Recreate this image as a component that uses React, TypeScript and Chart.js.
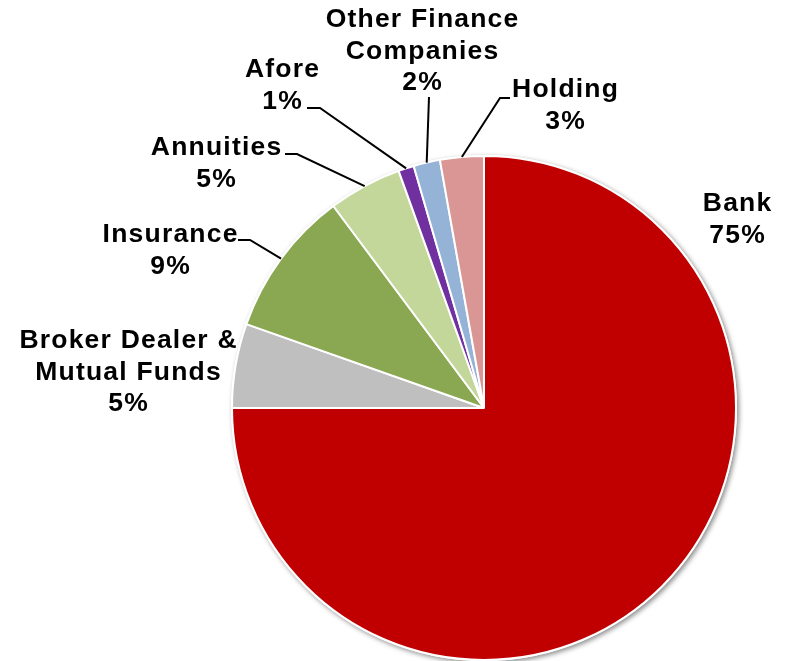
import React, { useEffect, useRef } from 'react';
import { Chart, registerables } from 'chart.js';

Chart.register(...registerables);

// ---- data ----
const categories = [
  'Bank',
  'Broker Dealer & Mutual Funds',
  'Insurance',
  'Annuities',
  'Afore',
  'Other Finance Companies',
  'Holding',
];
const labelLines = [
  ['Bank'],
  ['Broker Dealer &', 'Mutual Funds'],
  ['Insurance'],
  ['Annuities'],
  ['Afore'],
  ['Other Finance', 'Companies'],
  ['Holding'],
];
const shares = [75.0, 5.4, 9.4, 4.7, 1.0, 1.7, 2.8];
const sliceColors = ['#C00000', '#BFBFBF', '#8AA752', '#C4D79B', '#7030A0', '#95B3D7', '#D99694'];

// ---- label layout (offsets from pie centre, px) ----
const labelAnchor: number[][] = [
  [253, -197],
  [-356, -60],
  [-314, -166],
  [-268, -253],
  [-202, -331],
  [-62, -381],
  [81, -311],
];
const leaderKnee: (number[] | null)[] = [null, null, [-234, -168], [-187, -254], [-164, -300], [-55, -311], [16, -310]];
const leaderTail: (number[] | null)[] = [null, null, [-246, -168], [-199, -254], [-177, -300], [-55, -311], [26, -310]];

const LINE_PITCH = 31.5;
const FONT = 'bold 26.5px "Liberation Sans", Arial, sans-serif';
const SPACING = 1.2;

const shadowPlugin = {
  id: 'pieShadow',
  beforeDatasetsDraw(chart: any) {
    const meta = chart.getDatasetMeta(0);
    const arc = meta.data[0];
    if (!arc) return;
    const { x, y, outerRadius } = arc.getProps(['x', 'y', 'outerRadius'], true);
    const ctx = chart.ctx;
    ctx.save();
    ctx.beginPath();
    ctx.arc(x, y, outerRadius + 1, 0, Math.PI * 2);
    ctx.fillStyle = '#ffffff';
    ctx.shadowColor = 'rgba(0,0,0,0.45)';
    ctx.shadowBlur = 5;
    ctx.shadowOffsetX = 2;
    ctx.shadowOffsetY = 2;
    ctx.fill();
    ctx.restore();
  },
};

const labelPlugin = {
  id: 'pieLabels',
  afterDatasetsDraw(chart: any) {
    const meta = chart.getDatasetMeta(0);
    const ctx = chart.ctx;
    const data = chart.data.datasets[0].data as number[];
    const total = data.reduce((a, b) => a + b, 0);
    ctx.save();
    meta.data.forEach((arc: any, i: number) => {
      const { x, y, startAngle, endAngle, outerRadius } = arc.getProps(
        ['x', 'y', 'startAngle', 'endAngle', 'outerRadius'],
        true
      );
      const mid = (startAngle + endAngle) / 2;
      const ex = x + Math.cos(mid) * outerRadius;
      const ey = y + Math.sin(mid) * outerRadius;
      const knee = leaderKnee[i];
      const tail = leaderTail[i];
      if (knee && tail) {
        ctx.beginPath();
        ctx.moveTo(x + tail[0], y + tail[1]);
        ctx.lineTo(x + knee[0], y + knee[1]);
        ctx.lineTo(ex, ey);
        ctx.strokeStyle = '#000000';
        ctx.lineWidth = 2;
        ctx.stroke();
      }
      const pct = Math.round((data[i] / total) * 100) + '%';
      const lines = [...labelLines[i], pct];
      ctx.font = FONT;
      (ctx as any).letterSpacing = SPACING + 'px';
      ctx.fillStyle = '#000000';
      ctx.textAlign = 'center';
      ctx.textBaseline = 'alphabetic';
      const ax = x + labelAnchor[i][0] + SPACING / 2;
      const ay = y + labelAnchor[i][1];
      lines.forEach((t, k) => {
        ctx.fillText(t, ax, ay + k * LINE_PITCH);
      });
    });
    ctx.restore();
  },
};

export default function App() {
  const ref = useRef<HTMLCanvasElement | null>(null);
  useEffect(() => {
    if (!ref.current) return;
    const chart = new Chart(ref.current, {
      type: 'pie',
      data: {
        labels: categories,
        datasets: [
          {
            data: shares,
            backgroundColor: sliceColors,
            borderColor: '#ffffff',
            borderWidth: 2,
          },
        ],
      },
      options: {
        responsive: false,
        animation: false,
        layout: { padding: { left: 231, right: 49, top: 155, bottom: 0 } },
        plugins: {
          legend: { display: false },
          tooltip: { enabled: false },
        },
      },
      plugins: [shadowPlugin, labelPlugin],
    });
    return () => chart.destroy();
  }, []);
  return (
    <div style={{ position: 'absolute', left: 0, top: 0, width: 786, height: 661, background: '#ffffff' }}>
      <canvas ref={ref} width={786} height={661} style={{ display: 'block' }} />
    </div>
  );
}
